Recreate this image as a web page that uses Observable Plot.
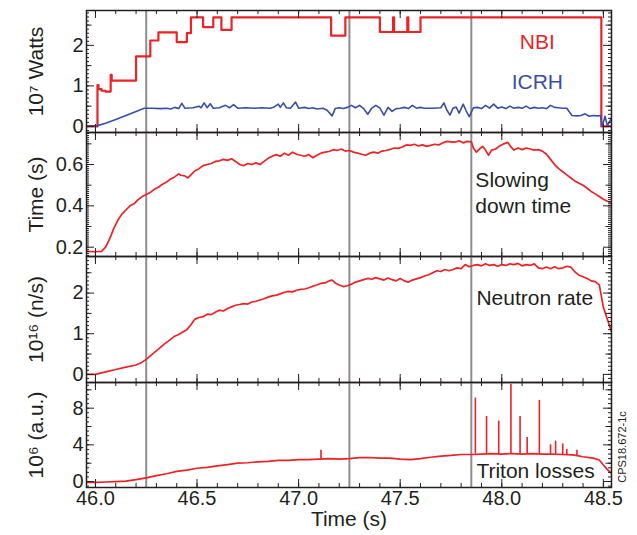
<!DOCTYPE html>
<html><head><meta charset="utf-8">
<script src="https://cdn.jsdelivr.net/npm/d3@7"></script>
<script src="https://cdn.jsdelivr.net/npm/@observablehq/plot@0.6"></script>
<style>
body{margin:0;background:#fff;}
#wrap{position:relative;width:637px;height:535px;overflow:hidden;}
</style></head><body><div id="wrap"></div>
<script>
// ---------- data ----------
const markerTimes = [46.25, 47.25, 47.85];

const nbiTime  = [45.956,46.01,46.015,46.03,46.05,46.075,46.08,46.2,46.27,46.31,46.4,46.45,46.47,46.53,46.58,46.62,46.67,47.16,47.23,47.4,47.465,47.47,47.535,47.54,47.6,48.49,48.54];
const nbiPower = [0,1.02,0.92,0.88,0.86,1.27,1.13,1.73,2.12,2.32,2.08,2.3,2.69,2.45,2.69,2.38,2.69,2.24,2.69,2.33,2.69,2.33,2.69,2.33,2.69,0,0];

const icrhSeries = [[45.956,0],[46.01,0.02],[46.05,0.08],[46.1,0.17],[46.15,0.27],[46.2,0.37],[46.24,0.45],[46.28,0.45],[46.32,0.44],[46.35,0.45],[46.37,0.43],[46.39,0.47],[46.41,0.44],[46.425,0.57],[46.44,0.45],[46.48,0.46],[46.51,0.5],[46.52,0.46],[46.535,0.58],[46.55,0.46],[46.565,0.56],[46.58,0.45],[46.61,0.46],[46.64,0.52],[46.66,0.46],[46.68,0.54],[46.7,0.45],[46.74,0.46],[46.78,0.45],[46.82,0.46],[46.86,0.45],[46.88,0.48],[46.9,0.55],[46.91,0.47],[46.925,0.58],[46.94,0.46],[46.96,0.45],[46.985,0.6],[47.0,0.45],[47.03,0.47],[47.05,0.44],[47.07,0.46],[47.09,0.43],[47.12,0.45],[47.14,0.4],[47.165,0.26],[47.18,0.44],[47.2,0.46],[47.22,0.44],[47.24,0.47],[47.26,0.52],[47.28,0.46],[47.3,0.52],[47.32,0.44],[47.34,0.3],[47.36,0.45],[47.38,0.52],[47.4,0.45],[47.42,0.28],[47.44,0.47],[47.46,0.37],[47.48,0.44],[47.5,0.45],[47.52,0.47],[47.54,0.44],[47.56,0.52],[47.58,0.45],[47.6,0.47],[47.62,0.45],[47.66,0.45],[47.7,0.46],[47.715,0.58],[47.73,0.4],[47.745,0.28],[47.76,0.45],[47.775,0.48],[47.79,0.33],[47.81,0.55],[47.825,0.38],[47.84,0.24],[47.86,0.46],[47.88,0.47],[47.9,0.44],[47.92,0.52],[47.94,0.45],[47.96,0.55],[47.98,0.45],[48.0,0.48],[48.02,0.44],[48.04,0.5],[48.06,0.45],[48.08,0.47],[48.1,0.45],[48.12,0.5],[48.14,0.44],[48.16,0.47],[48.18,0.45],[48.2,0.46],[48.22,0.44],[48.24,0.52],[48.26,0.47],[48.28,0.46],[48.3,0.45],[48.32,0.45],[48.345,0.27],[48.37,0.26],[48.39,0.27],[48.41,0.31],[48.43,0.25],[48.45,0.27],[48.47,0.26],[48.485,0.27],[48.495,0.0],[48.508,0.25],[48.52,0.01],[48.54,0.22]];

const slowingSeries = [[45.956,0.18],[46.0,0.178],[46.03,0.18],[46.05,0.2],[46.07,0.24],[46.09,0.29],[46.11,0.33],[46.13,0.36],[46.15,0.38],[46.17,0.4],[46.19,0.41],[46.21,0.43],[46.23,0.445],[46.25,0.455],[46.27,0.465],[46.29,0.48],[46.31,0.49],[46.33,0.505],[46.35,0.515],[46.37,0.53],[46.39,0.54],[46.41,0.555],[46.42,0.548],[46.44,0.545],[46.455,0.535],[46.47,0.55],[46.49,0.57],[46.51,0.58],[46.53,0.595],[46.55,0.6],[46.57,0.605],[46.59,0.615],[46.61,0.618],[46.63,0.625],[46.65,0.62],[46.67,0.628],[46.69,0.615],[46.71,0.6],[46.73,0.595],[46.75,0.605],[46.77,0.6],[46.79,0.608],[46.81,0.6],[46.83,0.615],[46.85,0.63],[46.87,0.64],[46.89,0.648],[46.91,0.64],[46.93,0.655],[46.95,0.645],[46.97,0.66],[46.99,0.65],[47.01,0.645],[47.03,0.64],[47.05,0.648],[47.07,0.633],[47.09,0.645],[47.11,0.655],[47.13,0.66],[47.15,0.663],[47.17,0.672],[47.19,0.668],[47.21,0.675],[47.23,0.665],[47.25,0.668],[47.27,0.66],[47.29,0.655],[47.31,0.65],[47.33,0.645],[47.35,0.655],[47.37,0.66],[47.39,0.655],[47.41,0.665],[47.43,0.668],[47.45,0.673],[47.47,0.68],[47.49,0.678],[47.51,0.685],[47.53,0.695],[47.55,0.693],[47.57,0.698],[47.59,0.69],[47.61,0.695],[47.63,0.688],[47.65,0.693],[47.67,0.698],[47.69,0.695],[47.71,0.705],[47.73,0.712],[47.75,0.71],[47.77,0.708],[47.79,0.715],[47.81,0.705],[47.83,0.712],[47.85,0.71],[47.86,0.68],[47.875,0.66],[47.89,0.675],[47.905,0.688],[47.92,0.67],[47.935,0.645],[47.95,0.67],[47.97,0.675],[47.99,0.69],[48.01,0.7],[48.03,0.707],[48.045,0.685],[48.06,0.67],[48.08,0.68],[48.1,0.672],[48.12,0.68],[48.14,0.675],[48.16,0.67],[48.18,0.672],[48.2,0.665],[48.22,0.65],[48.24,0.625],[48.26,0.6],[48.28,0.58],[48.3,0.565],[48.32,0.55],[48.34,0.535],[48.36,0.52],[48.38,0.51],[48.4,0.5],[48.42,0.485],[48.44,0.47],[48.46,0.458],[48.48,0.445],[48.5,0.432],[48.52,0.422],[48.54,0.415]];

const neutronSeries = [[45.956,0],[46.0,0.0],[46.05,0.06],[46.1,0.12],[46.15,0.18],[46.2,0.23],[46.23,0.3],[46.25,0.37],[46.28,0.5],[46.31,0.62],[46.34,0.75],[46.37,0.86],[46.39,0.94],[46.41,0.98],[46.43,1.04],[46.45,1.1],[46.47,1.22],[46.49,1.36],[46.51,1.4],[46.53,1.42],[46.55,1.48],[46.57,1.47],[46.59,1.53],[46.61,1.58],[46.63,1.56],[46.65,1.62],[46.67,1.66],[46.69,1.7],[46.71,1.72],[46.73,1.74],[46.75,1.73],[46.77,1.78],[46.79,1.8],[46.81,1.83],[46.83,1.86],[46.85,1.9],[46.87,1.93],[46.89,1.95],[46.91,1.98],[46.93,2.02],[46.95,2.04],[46.97,2.03],[46.99,2.07],[47.01,2.09],[47.03,2.1],[47.05,2.13],[47.07,2.17],[47.09,2.2],[47.11,2.24],[47.13,2.25],[47.15,2.3],[47.165,2.32],[47.18,2.25],[47.2,2.2],[47.22,2.16],[47.24,2.18],[47.26,2.22],[47.28,2.27],[47.3,2.3],[47.32,2.33],[47.34,2.36],[47.36,2.34],[47.38,2.38],[47.4,2.35],[47.42,2.32],[47.44,2.37],[47.46,2.33],[47.48,2.3],[47.5,2.36],[47.52,2.3],[47.54,2.27],[47.56,2.32],[47.58,2.35],[47.6,2.38],[47.62,2.42],[47.64,2.45],[47.66,2.5],[47.68,2.55],[47.7,2.53],[47.72,2.58],[47.74,2.55],[47.76,2.58],[47.78,2.62],[47.8,2.6],[47.82,2.7],[47.84,2.65],[47.86,2.68],[47.88,2.7],[47.9,2.67],[47.92,2.72],[47.94,2.68],[47.96,2.7],[47.98,2.66],[48.0,2.7],[48.02,2.68],[48.04,2.72],[48.06,2.7],[48.08,2.73],[48.1,2.67],[48.12,2.7],[48.14,2.68],[48.16,2.72],[48.18,2.62],[48.2,2.6],[48.22,2.64],[48.24,2.6],[48.26,2.65],[48.28,2.6],[48.3,2.62],[48.32,2.66],[48.34,2.64],[48.36,2.52],[48.38,2.44],[48.4,2.4],[48.42,2.36],[48.44,2.3],[48.46,2.28],[48.48,2.2],[48.5,1.65],[48.52,1.35],[48.54,1.05]];

const tritonSeries = [[45.956,-0.1],[46.0,-0.1],[46.05,-0.05],[46.1,0.0],[46.15,0.05],[46.2,0.2],[46.25,0.4],[46.3,0.65],[46.35,0.85],[46.4,1.1],[46.45,1.25],[46.5,1.45],[46.55,1.55],[46.6,1.7],[46.65,1.85],[46.7,2.0],[46.75,2.05],[46.8,2.15],[46.85,2.2],[46.9,2.3],[46.95,2.3],[47.0,2.4],[47.05,2.38],[47.1,2.45],[47.15,2.5],[47.2,2.45],[47.25,2.5],[47.3,2.6],[47.35,2.62],[47.4,2.55],[47.45,2.55],[47.5,2.45],[47.55,2.4],[47.6,2.5],[47.65,2.65],[47.7,2.78],[47.75,2.85],[47.8,2.95],[47.85,2.95],[47.9,3.0],[47.95,3.05],[48.0,3.0],[48.05,3.05],[48.1,3.0],[48.15,3.05],[48.2,3.0],[48.25,2.98],[48.3,2.95],[48.35,2.9],[48.4,2.7],[48.45,2.55],[48.48,2.35],[48.5,1.8],[48.52,1.3],[48.54,0.9]];

// [time, base, peak]
const tritonSpikes = [[47.11,2.45,3.4],[47.87,3.0,9.1],[47.925,3.05,7.1],[47.985,3.0,6.6],[48.045,3.05,10.6],[48.09,3.0,7.1],[48.125,3.0,4.8],[48.185,3.0,8.85],[48.24,3.0,4.0],[48.265,2.98,4.4],[48.3,2.95,4.1],[48.32,2.95,3.5],[48.37,2.85,3.4]];

const xTickLabels = [46.0, 46.5, 47.0, 47.5, 48.0, 48.5];
const xMinorTicks = d3.range(0, 26).map(i => 46 + i / 10);
const panelTicks = [
  {major: [0, 1, 2], medium: [0.5, 1.5, 2.5], minor: d3.range(-1, 29).map(i => i / 10), fmt: d3.format("d")},
  {major: [0.2, 0.4, 0.6], medium: [0.3, 0.5, 0.7], minor: d3.range(16, 76).map(i => i / 100), fmt: d3.format(".1f")},
  {major: [0, 1, 2], medium: [0.5, 1.5, 2.5], minor: d3.range(-1, 29).map(i => i / 10), fmt: d3.format("d")},
  {major: [0, 4, 8], medium: [2, 6, 10], minor: d3.range(-1, 22).map(i => i / 2), fmt: d3.format("d")}
];
const yTitles = ["10\u2077 Watts", "Time (s)", "10\u00b9\u2076 (n/s)", "10\u2076 (a.u.)"];

// ---------- layout / style ----------
const W = 637, ML = 86, MR = 26, IW = W - ML - MR;
const xDomain = [45.956, 48.54];
const RED = "#ec2227", BLUE = "#3a4ea5", INK = "#231f20";
const FONT = "'Liberation Sans', Arial, Helvetica, sans-serif";
const wrap = document.getElementById("wrap");

function frameTicks(IH, t) {
  const m = [];
  for (const [ticks, len] of [[t.minor, 3], [t.medium, 5.5], [t.major, 8]]) {
    m.push(Plot.ruleY(ticks, {y: d => d, insetRight: IW - len, stroke: INK, strokeWidth: 1}));
    m.push(Plot.ruleY(ticks, {y: d => d, insetLeft: IW - len, stroke: INK, strokeWidth: 1}));
  }
  for (const [ticks, len] of [[xMinorTicks, 4], [xTickLabels, 8]]) {
    m.push(Plot.ruleX(ticks, {x: d => d, insetTop: IH - len, stroke: INK, strokeWidth: 1}));
    m.push(Plot.ruleX(ticks, {x: d => d, insetBottom: IH - len, stroke: INK, strokeWidth: 1}));
  }
  return m;
}

function panel(i, top, height, mt, mb, yDomain, marks, extra = []) {
  const IH = height - mt - mb;
  const t = panelTicks[i];
  const svg = Plot.plot({
    width: W, height, marginLeft: ML, marginRight: MR, marginTop: mt, marginBottom: mb,
    x: {domain: xDomain, axis: null, label: null},
    y: {domain: yDomain, axis: null, label: null},
    style: {overflow: "visible", background: "transparent", fontFamily: FONT},
    marks: [
      Plot.ruleX(markerTimes, {x: d => d, stroke: "#8d8d8d", strokeWidth: 2}),
      ...marks,
      ...frameTicks(IH, t),
      Plot.frame({stroke: INK, strokeWidth: 1.5}),
      Plot.axisY(t.major, {anchor: "left", label: null, tickSize: 0, tickPadding: 3, tickFormat: t.fmt, fontSize: 20, fill: INK}),
      Plot.text([yTitles[i]], {frameAnchor: "left", textAnchor: "middle", dx: -50, rotate: -90, fontSize: 21, fill: INK}),
      ...extra
    ]
  });
  svg.style.position = "absolute";
  svg.style.left = "0px";
  svg.style.top = top + "px";
  wrap.appendChild(svg);
}

const nbi = nbiTime.map((t, i) => ({t, v: nbiPower[i]}));
const icrh = icrhSeries.map(([t, v]) => ({t, v}));
const slowing = slowingSeries.map(([t, v]) => ({t, v}));
const neutron = neutronSeries.map(([t, v]) => ({t, v}));
const triton = tritonSeries.map(([t, v]) => ({t, v}));
const spikes = tritonSpikes.map(([t, b, p]) => ({t, b, p}));

// Panel 1: heating power
panel(0, 0, 132, 10, 0, [-0.15, 2.86], [
  Plot.line(nbi, {x: "t", y: "v", curve: "step-after", stroke: RED, strokeWidth: 2.2, clip: true}),
  Plot.line(icrh, {x: "t", y: "v", stroke: BLUE, strokeWidth: 1.6, clip: true}),
  Plot.text(["NBI"], {x: [48.175], y: [2.07], fill: RED, fontSize: 21}),
  Plot.text(["ICRH"], {x: [48.175], y: [1.09], fill: BLUE, fontSize: 21})
]);

// Panel 2: slowing-down time
panel(1, 132, 124, 0, 0, [0.155, 0.755], [
  Plot.line(slowing, {x: "t", y: "v", stroke: RED, strokeWidth: 1.7, clip: true}),
  Plot.text(["Slowing", "down time"], {x: [47.87, 47.87], y: [0.522, 0.4], textAnchor: "start", fill: INK, fontSize: 21})
]);

// Panel 3: neutron rate
panel(2, 256, 126, 0, 0, [-0.2, 2.9], [
  Plot.line(neutron, {x: "t", y: "v", stroke: RED, strokeWidth: 1.7, clip: true}),
  Plot.text(["Neutron rate"], {x: [47.875], y: [1.88], textAnchor: "start", fill: INK, fontSize: 21})
]);

// Panel 4: triton losses
panel(3, 382, 153, 0, 48, [-0.65, 10.8], [
  Plot.line(triton, {x: "t", y: "v", stroke: RED, strokeWidth: 1.7, clip: true}),
  Plot.ruleX(spikes, {x: "t", y1: "b", y2: "p", stroke: RED, strokeWidth: 1.6}),
  Plot.text(["Triton losses"], {x: [47.875], y: [1.1], textAnchor: "start", fill: INK, fontSize: 21})
], [
  Plot.axisX(xTickLabels, {anchor: "bottom", label: null, tickSize: 0, tickPadding: 3, tickFormat: d3.format(".1f"), fontSize: 20, fill: INK}),
  Plot.text(["Time (s)"], {frameAnchor: "bottom", textAnchor: "middle", dy: 38, fontSize: 21, fill: INK}),
  Plot.text(["CPS18.672-1c"], {frameAnchor: "right", textAnchor: "middle", dx: 11, dy: 12, rotate: -90, fontSize: 11, fill: INK})
]);
</script></body></html>
